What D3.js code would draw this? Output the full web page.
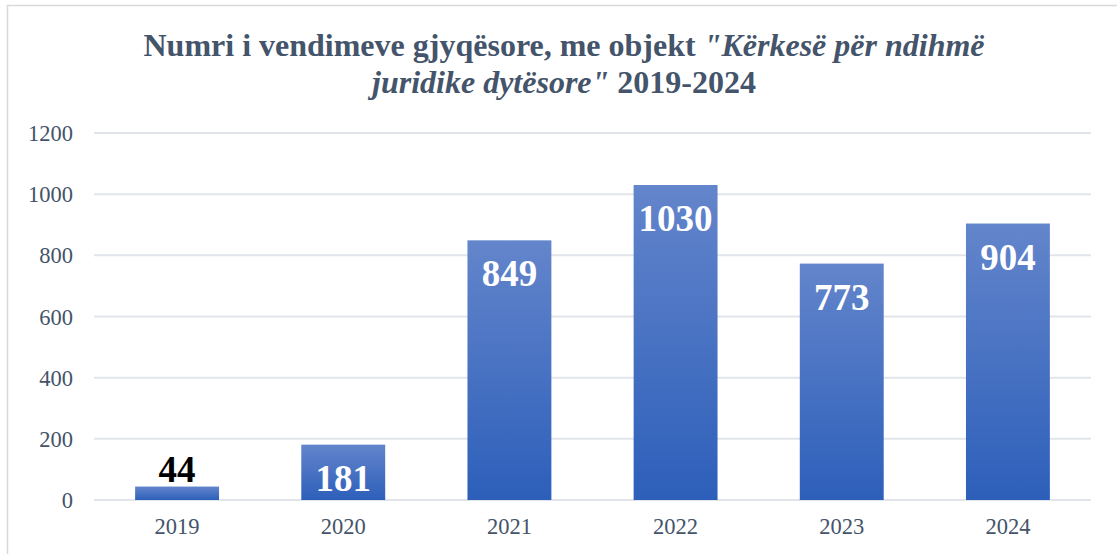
<!DOCTYPE html>
<html>
<head>
<meta charset="utf-8">
<script src="https://cdn.jsdelivr.net/npm/d3@7"></script>
<style>
  body { margin: 0; background: #fff; }
  svg { display: block; }
  .tick text { font-family: "Liberation Serif", "Times New Roman", serif; font-size: 22.5px; fill: #44546a; }
  .title { font-family: "Liberation Serif", "Times New Roman", serif; font-size: 32px; font-weight: bold; fill: #44546a; }
  .label { font-family: "Liberation Serif", "Times New Roman", serif; font-size: 37px; font-weight: bold; }
</style>
</head>
<body>
<svg id="chart" width="1117" height="554"></svg>
<script>
// chart values
var years = ['2019', '2020', '2021', '2022', '2023', '2024'];
var decisions = [44, 181, 849, 1030, 773, 904];
var yTicks = [0, 200, 400, 600, 800, 1000, 1200];

var svg = d3.select('#chart');
var margin = {left: 94, right: 26, top: 133, bottom: 54};
var width = 1117, height = 554;

// frame (only top and left edges show in the picture)
svg.append('path')
    .attr('d', 'M7.5,554 V5.5 H1117')
    .attr('fill', 'none')
    .attr('stroke', '#d9d9d9')
    .attr('stroke-width', 1.5);

var x = d3.scaleBand()
    .domain(years)
    .range([margin.left, width - margin.right])
    .paddingInner(0.495)
    .paddingOuter(0.2475);

var y = d3.scaleLinear()
    .domain([0, 1200])
    .range([height - margin.bottom, margin.top]);

var defs = svg.append('defs');
var grad = defs.append('linearGradient')
    .attr('id', 'barFill')
    .attr('x1', 0).attr('y1', 0).attr('x2', 0).attr('y2', 1);
grad.append('stop').attr('offset', '0%').attr('stop-color', '#6385cb');
grad.append('stop').attr('offset', '100%').attr('stop-color', '#2d5fba');

// gridlines
svg.append('g')
    .selectAll('line')
    .data(yTicks)
  .enter()
  .append('line')
    .attr('x1', margin.left)
    .attr('x2', width - margin.right)
    .attr('y1', function(d) { return y(d); })
    .attr('y2', function(d) { return y(d); })
    .attr('stroke', '#e1e5ea')
    .attr('stroke-width', 2);

// y axis
var yAxis = svg.append('g')
    .attr('transform', 'translate(' + (margin.left - 21) + ',0)')
    .call(d3.axisLeft(y).tickValues(yTicks).tickFormat(d3.format('d')).tickSize(0).tickPadding(0));
yAxis.select('.domain').remove();
yAxis.selectAll('.tick text').attr('dy', '0.34em');

// x axis
var xAxis = svg.append('g')
    .attr('transform', 'translate(0,' + (height - margin.bottom) + ')')
    .call(d3.axisBottom(x).tickSize(0).tickPadding(18));
xAxis.select('.domain').remove();

// bars
svg.append('g')
    .selectAll('rect')
    .data(decisions)
  .enter()
  .append('rect')
    .attr('x', function(d, i) { return x(years[i]); })
    .attr('width', x.bandwidth())
    .attr('y', function(d) { return y(d); })
    .attr('height', function(d) { return y(0) - y(d); })
    .attr('fill', 'url(#barFill)');

// value labels: inside the top of the bar, above it when the bar is too short
svg.append('g')
    .selectAll('text')
    .data(decisions)
  .enter()
  .append('text')
    .attr('class', 'label')
    .attr('text-anchor', 'middle')
    .attr('x', function(d, i) { return x(years[i]) + x.bandwidth() / 2; })
    .attr('y', function(d) {
        return d < 100 ? y(d) - 5 : y(d) + 46;
    })
    .attr('fill', function(d) { return d < 100 ? '#000' : '#fff'; })
    .text(function(d) { return d; });

// title
var title = svg.append('text')
    .attr('class', 'title')
    .attr('text-anchor', 'middle');
var line1 = title.append('tspan').attr('x', 564).attr('y', 56);
line1.append('tspan').text('Numri i vendimeve gjyqësore, me objekt ');
line1.append('tspan').attr('font-style', 'italic').text('"Kërkesë për ndihmë');
var line2 = title.append('tspan').attr('x', 564).attr('y', 93);
line2.append('tspan').attr('font-style', 'italic').text('juridike dytësore"');
line2.append('tspan').text(' 2019-2024');
</script>
</body>
</html>
